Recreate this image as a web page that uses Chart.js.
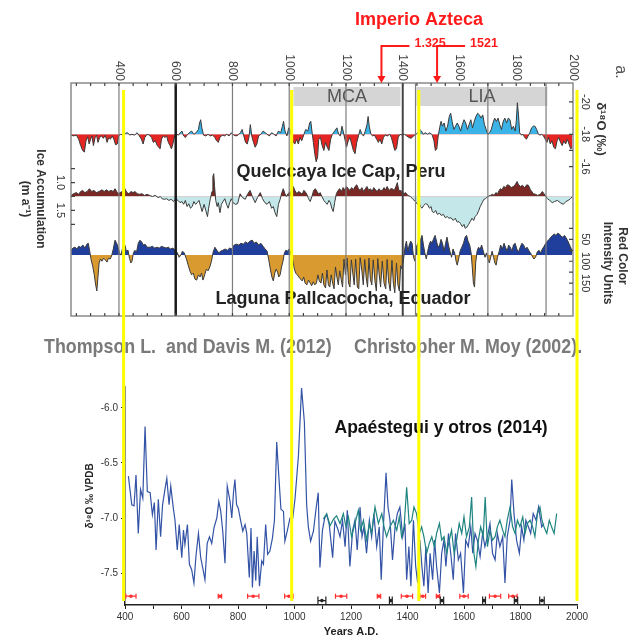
<!DOCTYPE html>
<html>
<head>
<meta charset="utf-8">
<script src="https://cdn.jsdelivr.net/npm/chart.js@4.4.1/dist/chart.umd.min.js"></script>
<style>
  body { margin: 0; background: #fff; }
  #wrap { position: relative; width: 629px; height: 643px; overflow: hidden; }
  canvas { position: absolute; left: 0; }
  #upper { top: 0; }
  #lower { top: 365px; }
</style>
</head>
<body>
<div id="wrap">
  <canvas id="upper" width="629" height="365"></canvas>
  <canvas id="lower" width="629" height="278"></canvas>
</div>
<script>
// Quelccaya ice cap, d18O (per mil) -- [year AD, value]
const quelccayaO18 = [
  [231,-17.95],[240,-17.9],[250,-17.95],[258,-17.7],[265,-17.3],[272,-17],[278,-16.9],[284,-17.6],[290,-17.85],[295,-17.4],
  [300,-17.7],[305,-17.9],[310,-17.3],[316,-17.8],[321,-17.95],[326,-17.5],[332,-17.8],[338,-17.9],[345,-17.75],[352,-17.95],
  [358,-17.5],[364,-17.8],[370,-17.7],[376,-17.9],[382,-17.7],[388,-17.35],[394,-17.4],[399,-17.9],[406,-18],[414,-17.95],
  [422,-18.05],[430,-18.1],[438,-17.95],[446,-18],[455,-17.95],[464,-18.1],[472,-17.9],[479,-17.7],[485,-17.4],[491,-17.8],
  [499,-18],[507,-17.95],[515,-17.8],[521,-17.5],[528,-17.6],[535,-17.3],[545,-17.1],[550,-17.7],[556,-17.9],[562,-17.8],
  [568,-17.9],[574,-17.5],[580,-17.3],[585,-17.1],[590,-17.4],[596,-17.9],[602,-18],[610,-17.95],[616,-18.1],[622,-18.2],
  [628,-17.9],[634,-17.8],[640,-17.95],[648,-18.1],[656,-18.2],[664,-18],[672,-18.1],[680,-18.3],[684,-18.7],[688,-18.9],
  [692,-18.4],[698,-17.95],[706,-17.9],[714,-18],[722,-17.9],[730,-17.95],[738,-17.8],[744,-17.6],[750,-17.5],[756,-17.8],
  [764,-17.95],[772,-17.9],[780,-18],[788,-17.9],[796,-18.1],[804,-17.95],[812,-17.9],[820,-17.95],[828,-18.1],[834,-18.3],
  [840,-17.9],[846,-17.5],[852,-17.4],[858,-17.8],[863,-18.6],[868,-17.9],[874,-17.5],[880,-17.2],[886,-17.4],[892,-17.9],
  [900,-18],[908,-18.2],[915,-18.1],[922,-18],[930,-17.9],[938,-18.1],[946,-18],[954,-17.9],[962,-18.2],[970,-18.1],
  [976,-18.5],[980,-18.8],[985,-18.2],[992,-17.9],[998,-18.4],[1003,-18.3],[1008,-17.9],[1014,-17.5],[1020,-17.4],[1026,-17.7],
  [1032,-17.4],[1038,-17.8],[1044,-17.6],[1050,-17.9],[1058,-18.3],[1066,-18.2],[1072,-18.7],[1076,-18.8],[1080,-18.2],[1085,-17.5],
  [1090,-16.8],[1095,-16.3],[1100,-16.6],[1104,-17.7],[1110,-17.8],[1116,-17.3],[1122,-17],[1128,-17.5],[1134,-17.2],[1140,-17],
  [1146,-17.7],[1152,-18],[1160,-18.2],[1168,-18.4],[1174,-18],[1180,-17.9],[1186,-18.5],[1190,-18.2],[1196,-17.7],[1202,-17.2],
  [1208,-17.6],[1214,-17.8],[1220,-17.4],[1226,-17],[1232,-16.8],[1238,-17.5],[1244,-17.9],[1250,-18.3],[1256,-18],[1262,-17.9],
  [1268,-18.2],[1274,-18.6],[1278,-19.1],[1282,-18.5],[1288,-18],[1294,-17.9],[1300,-17.95],[1308,-17.7],[1314,-17.5],[1320,-17.7],
  [1326,-17.4],[1332,-17.8],[1338,-17.95],[1346,-17.9],[1354,-18],[1360,-17.8],[1366,-17.4],[1372,-17],[1378,-17.1],[1384,-17.8],
  [1390,-18],[1398,-17.95],[1406,-18],[1414,-17.9],[1422,-17.8],[1430,-17.75],[1438,-17.9],[1446,-18],[1454,-18.1],[1460,-18.3],
  [1466,-18.2],[1472,-18],[1480,-18.1],[1488,-18],[1496,-18.1],[1504,-17.95],[1510,-17.6],[1515,-17],[1520,-17.1],[1525,-17.9],
  [1530,-18.4],[1535,-18.8],[1540,-18.5],[1546,-18.7],[1552,-18.2],[1558,-18.5],[1564,-19.1],[1569,-19.3],[1574,-18.8],[1580,-18.3],
  [1586,-18.5],[1592,-18.7],[1598,-18.5],[1604,-18.2],[1610,-18.6],[1616,-18.9],[1622,-18.7],[1628,-18.3],[1634,-18.6],[1640,-18.9],
  [1646,-18.4],[1652,-18.8],[1658,-19.1],[1664,-19.3],[1670,-19.2],[1676,-19],[1682,-19.2],[1688,-18.6],[1694,-18.3],[1700,-18],
  [1706,-18.1],[1712,-18.3],[1718,-18.7],[1724,-19],[1730,-18.8],[1736,-19],[1742,-18.6],[1748,-18.3],[1754,-18.8],[1760,-19],
  [1766,-18.7],[1772,-19],[1778,-18.9],[1784,-18.3],[1790,-18.5],[1796,-18.2],[1800,-18.8],[1804,-19.95],[1808,-19.2],[1812,-18.1],
  [1818,-17.95],[1824,-18],[1830,-17.8],[1836,-17.7],[1842,-17.9],[1848,-18.1],[1854,-18.4],[1860,-18.5],[1866,-18.5],[1872,-18.3],
  [1878,-18],[1884,-17.95],[1890,-18],[1896,-17.9],[1902,-17.7],[1908,-17.5],[1914,-17.8],[1920,-17.4],[1926,-17.6],[1932,-17.2],
  [1938,-17.1],[1944,-17.6],[1950,-17.8],[1956,-17.5],[1962,-17.3],[1968,-17.6],[1974,-17.4],[1980,-17.7],[1986,-17.4],[1992,-17.1],
  [1998,-17.2]
];

// Quelccaya ice accumulation (m a-1)
const quelccayaAccum = [
  [231,1.23],[240,1.20],[250,1.18],[258,1.21],[265,1.16],[272,1.14],[280,1.18],[288,1.16],[296,1.11],[304,1.16],
  [312,1.14],[320,1.18],[330,1.16],[340,1.13],[348,1.16],[356,1.13],[364,1.16],[372,1.14],[380,1.16],[386,1.11],
  [392,1.16],[397,1.20],[404,1.18],[412,1.16],[421,1.11],[428,1.18],[435,1.20],[442,1.16],[450,1.18],[457,1.16],
  [464,1.20],[472,1.21],[481,1.20],[490,1.23],[499,1.21],[508,1.23],[518,1.25],[528,1.23],[538,1.27],[546,1.25],
  [552,1.29],[560,1.30],[568,1.29],[576,1.32],[584,1.30],[592,1.34],[600,1.29],[608,1.32],[615,1.36],[622,1.34],
  [628,1.39],[634,1.32],[640,1.43],[646,1.38],[652,1.46],[658,1.43],[664,1.34],[670,1.39],[676,1.36],[682,1.32],
  [688,1.43],[693,1.52],[700,1.39],[706,1.50],[712,1.61],[716,1.46],[722,1.29],[728,1.16],[731,0.89],[734,0.84],
  [737,1.07],[741,1.32],[746,1.43],[750,1.36],[756,1.54],[761,1.39],[767,1.34],[773,1.29],[779,1.39],[785,1.46],
  [790,1.36],[796,1.29],[802,1.36],[810,1.39],[818,1.38],[827,1.20],[835,1.27],[845,1.30],[853,1.21],[862,1.14],
  [870,1.25],[880,1.36],[888,1.27],[898,1.18],[906,1.29],[914,1.36],[922,1.39],[930,1.34],[938,1.46],[944,1.43],
  [950,1.54],[956,1.61],[962,1.39],[968,1.30],[974,1.18],[979,1.11],[985,1.20],[990,1.25],[996,1.20],[1003,1.16],
  [1008,1.21],[1014,1.07],[1020,1.14],[1027,1.20],[1033,1.16],[1039,1.18],[1046,1.21],[1051,1.14],[1056,1.16],[1062,1.21],
  [1068,1.29],[1074,1.34],[1080,1.25],[1086,1.14],[1092,1.11],[1098,1.16],[1104,1.21],[1109,1.18],[1115,1.25],[1122,1.32],
  [1128,1.36],[1134,1.39],[1140,1.32],[1145,1.36],[1150,1.46],[1155,1.52],[1160,1.36],[1166,1.20],[1172,1.14],[1178,1.11],
  [1184,1.16],[1190,1.09],[1196,1.13],[1202,1.07],[1208,1.11],[1214,1.14],[1220,1.09],[1226,1.13],[1232,1.07],[1238,1.04],
  [1244,1.11],[1250,1.14],[1256,1.09],[1262,1.16],[1268,1.11],[1274,1.07],[1280,1.14],[1286,1.11],[1292,1.16],[1298,1.09],
  [1304,1.13],[1310,1.16],[1316,1.11],[1322,1.14],[1328,1.14],[1334,1.09],[1340,1.13],[1345,1.07],[1352,1.14],[1358,1.11],
  [1363,1.11],[1370,1.14],[1376,1.07],[1381,1.00],[1386,1.14],[1391,1.14],[1398,1.16],[1404,1.20],[1410,1.18],[1418,1.23],
  [1427,1.25],[1436,1.30],[1445,1.34],[1452,1.39],[1458,1.36],[1462,1.43],[1468,1.46],[1474,1.41],[1480,1.38],[1487,1.39],
  [1494,1.46],[1500,1.43],[1504,1.52],[1510,1.54],[1516,1.50],[1522,1.57],[1530,1.55],[1536,1.59],[1543,1.57],[1550,1.63],
  [1557,1.61],[1563,1.64],[1570,1.63],[1578,1.68],[1585,1.64],[1592,1.71],[1598,1.70],[1603,1.73],[1610,1.79],[1616,1.75],
  [1620,1.82],[1626,1.80],[1632,1.75],[1638,1.70],[1644,1.64],[1650,1.68],[1655,1.61],[1662,1.57],[1668,1.50],[1673,1.43],
  [1680,1.36],[1686,1.30],[1691,1.29],[1700,1.25],[1709,1.23],[1716,1.21],[1722,1.23],[1728,1.18],[1734,1.20],[1740,1.14],
  [1744,1.11],[1750,1.13],[1756,1.07],[1762,1.09],[1769,1.04],[1775,1.05],[1782,1.09],[1790,1.07],[1796,1.04],[1803,0.98],
  [1808,1.04],[1815,1.07],[1822,1.05],[1830,1.09],[1837,1.04],[1843,1.05],[1850,1.13],[1855,1.16],[1860,1.20],[1868,1.21],
  [1875,1.23],[1885,1.21],[1892,1.16],[1898,1.20],[1904,1.25],[1910,1.29],[1918,1.32],[1927,1.36],[1935,1.34],[1945,1.32],
  [1955,1.36],[1966,1.39],[1975,1.34],[1983,1.32],[1991,1.29],[1998,1.25]
];

// Laguna Pallcacocha, red colour intensity units
const pallcacochaRed = [
  [231,75],[238,70],[245,68],[252,72],[258,66],[265,68],[273,63],[280,70],[287,61],[292,59],
  [297,77],[302,97],[308,113],[313,131],[318,154],[322,168],[326,136],[330,104],[335,95],[340,100],
  [346,93],[352,97],[358,102],[363,93],[369,95],[374,88],[380,72],[386,52],[392,59],[397,68],
  [402,81],[407,86],[412,72],[416,59],[421,63],[426,77],[432,75],[437,93],[442,104],[446,100],
  [451,81],[456,75],[462,79],[468,59],[474,52],[480,56],[486,63],[492,61],[500,68],[510,68],
  [518,66],[526,70],[534,68],[542,70],[550,66],[558,68],[566,70],[574,68],[582,72],[590,70],
  [598,75],[606,81],[612,91],[618,86],[624,77],[630,81],[638,95],[644,109],[650,122],[656,131],
  [662,127],[668,141],[674,143],[680,131],[686,136],[691,127],[696,143],[702,131],[708,118],[714,122],
  [720,113],[726,100],[732,79],[738,68],[745,75],[752,81],[758,77],[766,75],[774,72],[782,75],
  [790,70],[798,72],[806,63],[814,61],[822,63],[830,59],[838,61],[846,56],[854,59],[862,54],
  [870,52],[876,59],[884,56],[892,63],[900,59],[908,66],[915,72],[922,77],[928,97],[934,120],
  [939,136],[944,145],[949,127],[954,118],[959,125],[963,136],[968,131],[973,113],[978,100],[983,81],
  [988,75],[994,77],[1000,72],[1006,81],[1012,95],[1018,118],[1023,127],[1028,131],[1034,136],[1040,141],
  [1046,145],[1051,136],[1056,150],[1062,154],[1068,143],[1074,150],[1079,156],[1085,147],[1090,154],[1096,150],
  [1101,131],[1106,145],[1112,150],[1117,127],[1122,154],[1128,161],[1133,120],[1138,154],[1143,159],[1148,131],
  [1153,150],[1158,163],[1163,113],[1168,136],[1173,154],[1178,122],[1183,141],[1188,159],[1193,95],[1198,131],
  [1204,93],[1209,150],[1214,159],[1219,97],[1224,127],[1229,154],[1234,95],[1240,159],[1245,163],[1250,92],
  [1256,122],[1261,154],[1266,96],[1271,136],[1276,159],[1281,93],[1286,141],[1291,154],[1296,97],[1302,145],
  [1307,168],[1312,94],[1317,131],[1322,159],[1328,100],[1334,150],[1340,163],[1345,96],[1350,145],[1356,168],
  [1362,98],[1367,150],[1372,172],[1378,104],[1383,154],[1388,168],[1393,110],[1398,118],[1403,95],[1408,68],
  [1413,54],[1418,77],[1423,63],[1428,54],[1433,59],[1438,91],[1443,100],[1448,68],[1453,59],[1458,77],
  [1463,50],[1468,41],[1473,63],[1478,81],[1483,95],[1488,77],[1493,63],[1498,54],[1503,59],[1508,50],
  [1514,41],[1519,54],[1524,68],[1530,63],[1535,50],[1540,59],[1546,77],[1551,59],[1556,45],[1561,63],
  [1567,79],[1572,91],[1577,72],[1583,81],[1588,100],[1592,109],[1597,95],[1602,77],[1608,68],[1614,59],
  [1620,45],[1625,41],[1630,54],[1636,63],[1641,81],[1645,113],[1649,150],[1653,159],[1657,104],[1662,77],
  [1667,68],[1673,72],[1678,63],[1684,77],[1690,91],[1695,81],[1700,95],[1705,104],[1710,91],[1715,77],
  [1720,91],[1725,104],[1729,109],[1734,91],[1740,77],[1745,63],[1751,72],[1757,59],[1762,68],[1768,77],
  [1773,63],[1779,68],[1785,77],[1790,63],[1796,59],[1802,72],[1808,79],[1814,68],[1820,59],[1826,63],
  [1832,72],[1838,68],[1844,75],[1850,81],[1856,88],[1862,95],[1868,91],[1874,79],[1880,75],[1886,81],
  [1892,72],[1898,66],[1904,59],[1910,54],[1916,50],[1922,45],[1928,41],[1934,38],[1940,41],[1946,36],
  [1952,38],[1958,43],[1964,45],[1970,41],[1976,47],[1982,54],[1988,63],[1994,72],[1998,81]
];

// Apaestegui et al. speleothem d18O (per mil VPDB), two records
const speleoBlue = [
  [412,-6.62],[424,-6.88],[432,-6.89],[439,-6.61],[447,-7.14],[455,-6.74],[463,-6.82],[471,-6.17],[479,-6.76],[489,-6.77],
  [497,-6.97],[504,-6.86],[510,-7.29],[518,-6.83],[526,-7.17],[533,-6.88],[542,-6.73],[548,-6.64],[556,-6.88],[562,-6.71],
  [571,-6.91],[577,-7.02],[585,-7.29],[592,-7.06],[601,-7.36],[607,-7.11],[612,-7.24],[621,-7.06],[628,-7.42],[636,-7.47],
  [644,-7.59],[651,-7.35],[660,-7.14],[668,-7.36],[675,-7.45],[683,-7.56],[691,-7.23],[699,-7.17],[707,-7.23],[715,-7.09],
  [725,-7.00],[732,-6.85],[739,-6.94],[746,-7.12],[754,-7.41],[762,-6.71],[772,-6.85],[778,-7.00],[784,-6.77],[789,-6.65],
  [795,-6.88],[801,-6.91],[809,-7.02],[817,-7.12],[825,-7.06],[831,-7.14],[840,-7.54],[846,-7.09],[851,-7.63],[857,-7.30],
  [863,-7.57],[868,-7.17],[876,-7.62],[884,-7.39],[890,-7.42],[898,-7.06],[905,-7.33],[913,-7.30],[922,-7.18],[929,-7.02],
  [937,-6.31],[945,-6.64],[952,-6.92],[961,-6.94],[966,-7.21],[975,-7.11],[984,-7.00],[994,-7.00],[1002,-6.82],[1014,-6.43],
  [1025,-5.82],[1035,-6.13],[1043,-6.88],[1049,-7.08],[1057,-7.21],[1067,-7.12],[1076,-6.92],[1084,-6.77],[1090,-7.45],[1099,-7.11],
  [1107,-7.00],[1114,-6.97],[1123,-7.06],[1135,-7.36],[1143,-7.03],[1152,-7.09],[1161,-7.17],[1170,-7.02],[1179,-7.26],[1187,-6.93],
  [1196,-7.44],[1206,-7.11],[1214,-7.02],[1222,-7.29],[1232,-6.90],[1239,-7.17],[1246,-7.08],[1255,-7.32],[1265,-7.02],[1273,-7.17],
  [1281,-6.96],[1291,-7.26],[1300,-7.08],[1307,-7.56],[1314,-7.11],[1324,-6.59],[1331,-6.90],[1338,-7.02],[1347,-7.38],[1356,-7.08],
  [1364,-6.96],[1373,-6.90],[1383,-7.17],[1391,-7.05],[1397,-7.56],[1405,-7.26],[1412,-7.62],[1421,-7.02],[1429,-7.44],[1436,-7.59],
  [1444,-7.20],[1451,-7.44],[1458,-7.62],[1465,-7.26],[1473,-7.68],[1480,-7.32],[1489,-7.56],[1496,-7.20],[1503,-7.44],[1513,-7.68],
  [1521,-7.32],[1529,-7.20],[1536,-7.44],[1545,-7.14],[1553,-7.32],[1562,-7.56],[1570,-7.14],[1580,-7.38],[1588,-7.32],[1598,-7.68],
  [1606,-7.20],[1615,-7.26],[1624,-7.08],[1631,-7.32],[1639,-7.14],[1647,-7.20],[1657,-7.35],[1666,-7.14],[1674,-7.26],[1683,-7.17],
  [1692,-7.05],[1701,-7.32],[1710,-7.38],[1718,-7.14],[1727,-7.26],[1737,-7.17],[1745,-7.59],[1753,-7.17],[1763,-7.02],[1769,-6.65],
  [1777,-6.96],[1786,-7.20],[1796,-7.32],[1804,-7.08],[1812,-7.20],[1819,-7.02],[1828,-7.08],[1836,-7.14],[1845,-6.96],[1855,-7.02],
  [1864,-6.90],[1875,-7.08],[1883,-7.05]
];
const speleoTeal = [
  [1102,-7.01],[1114,-6.96],[1126,-7.07],[1138,-7.01],[1149,-6.98],[1161,-7.05],[1173,-6.96],[1182,-7.08],[1191,-6.99],[1202,-7.17],
  [1214,-7.05],[1226,-6.93],[1234,-7.11],[1244,-7.02],[1255,-7.20],[1265,-7.05],[1273,-7.14],[1285,-6.90],[1297,-7.05],[1309,-6.96],
  [1317,-7.08],[1326,-7.17],[1338,-7.08],[1350,-7.02],[1362,-7.11],[1371,-6.99],[1379,-7.17],[1388,-7.08],[1397,-6.72],[1406,-7.05],
  [1415,-7.02],[1423,-6.90],[1432,-6.96],[1442,-7.14],[1450,-7.08],[1458,-7.17],[1468,-7.32],[1477,-7.23],[1486,-7.17],[1495,-7.26],
  [1503,-7.14],[1513,-7.05],[1521,-7.20],[1529,-7.17],[1539,-7.32],[1548,-7.20],[1556,-7.11],[1565,-7.32],[1574,-7.20],[1583,-7.05],
  [1592,-7.14],[1600,-6.99],[1609,-7.17],[1619,-7.08],[1627,-6.81],[1635,-7.32],[1642,-7.44],[1651,-7.20],[1659,-7.08],[1668,-7.17],
  [1675,-6.81],[1683,-7.26],[1692,-7.11],[1701,-7.20],[1710,-7.17],[1718,-7.08],[1727,-7.02],[1737,-7.11],[1745,-7.17],[1753,-7.02],
  [1763,-6.90],[1772,-7.08],[1781,-7.14],[1789,-7.02],[1798,-7.08],[1808,-6.99],[1816,-7.14],[1824,-7.05],[1834,-7.02],[1843,-7.08],
  [1851,-7.17],[1860,-6.96],[1869,-6.90],[1876,-7.02],[1883,-7.08],[1893,-7.14],[1902,-7.02],[1910,-7.08],[1919,-7.14],[1928,-6.96]
];

// U-Th ages with half-widths (years); red = one record, black = the other
const redDates = [421, 736, 854, 980, 1165, 1299, 1398, 1454, 1508, 1600, 1710, 1773];
const redErr = [18, 6, 20, 15, 20, 6, 20, 10, 6, 15, 20, 15];
const blackDates = [1097, 1341, 1522, 1671, 1784, 1876];
const blackErr = [14, 5, 6, 5, 6, 8];

const topTickYears = [400, 600, 800, 1000, 1200, 1400, 1600, 1800, 2000];
const gridYears = [400, 600, 800, 1000, 1200, 1400, 1445, 1700, 1905];
const periods = ['MCA', 'LIA'];
const periodStart = [1015, 1448];
const periodEnd = [1392, 1910];
const aztecYears = [1325, 1521];
const aztecLabels = ['1.325', '1521'];
const markerYears = [395, 990, 1440, 2000];
const lowerYTicks = [-6.0, -6.5, -7.0, -7.5];
const lowerXTicks = [400, 500, 600, 700, 800, 900, 1000, 1100, 1200, 1300, 1400, 1500, 1600, 1700, 1800, 1900, 2000];

const O18_BASE = -18, ACCUM_BASE = 1.25, RED_BASE = 86;
const RED_LEVEL = -7.71, BLACK_LEVEL = -7.75;
const SANS = '"Liberation Sans", Arial, sans-serif';

Chart.defaults.font.family = SANS;

const toXY = arr => arr.map(([x, y]) => ({ x, y }));

function rotText(ctx, text, x, y, align) {
  ctx.save();
  ctx.translate(x, y);
  ctx.rotate(Math.PI / 2);
  ctx.textAlign = align || 'center';
  ctx.textBaseline = 'middle';
  ctx.fillText(text, 0, 0);
  ctx.restore();
}

function squeezedText(ctx, text, x, y, sx) {
  ctx.save();
  ctx.translate(x, y);
  ctx.scale(sx, 1);
  ctx.textAlign = 'left';
  ctx.textBaseline = 'middle';
  ctx.fillText(text, 0, 0);
  ctx.restore();
}

let lowerChart = null;

// the yellow marker lines run through both panels, placed on the lower time axis
function drawYellow(ctx, xs, y0, y1) {
  ctx.save();
  ctx.strokeStyle = '#ffff00';
  ctx.lineWidth = 3;
  markerYears.forEach(yr => {
    const px = xs.getPixelForValue(yr);
    ctx.beginPath();
    ctx.moveTo(px, y0);
    ctx.lineTo(px, y1);
    ctx.stroke();
  });
  ctx.restore();
}

function drawAgeBars(ctx, xs, ys, dates, errs, level, color, cap) {
  const cy = ys.getPixelForValue(level);
  ctx.strokeStyle = color;
  ctx.fillStyle = color;
  ctx.lineWidth = 1.2;
  dates.forEach((d, i) => {
    const x0 = xs.getPixelForValue(d - errs[i]);
    const x1 = xs.getPixelForValue(d + errs[i]);
    ctx.beginPath();
    ctx.moveTo(x0, cy); ctx.lineTo(x1, cy);
    ctx.moveTo(x0, cy - cap); ctx.lineTo(x0, cy + cap);
    ctx.moveTo(x1, cy - cap); ctx.lineTo(x1, cy + cap);
    ctx.stroke();
    ctx.beginPath();
    ctx.arc(xs.getPixelForValue(d), cy, 1.8, 0, Math.PI * 2);
    ctx.fill();
  });
}

const lowerDecor = {
  id: 'lowerDecor',
  afterDatasetsDraw(chart) {
    const { ctx, scales: { x, y } } = chart;
    ctx.save();
    ctx.font = 'bold 17.5px ' + SANS;
    ctx.fillStyle = '#111';
    ctx.textAlign = 'center';
    ctx.textBaseline = 'middle';
    ctx.fillText('Apaéstegui y otros (2014)', 441, 63);
    drawAgeBars(ctx, x, y, redDates, redErr, RED_LEVEL, '#ff3030', 2.5);
    drawAgeBars(ctx, x, y, blackDates, blackErr, BLACK_LEVEL, '#222', 4);
    ctx.restore();
  },
  afterDraw(chart) {
    drawYellow(chart.ctx, chart.scales.x, 0, chart.scales.y.bottom - 4);
  }
};

const upperDecor = {
  id: 'upperDecor',
  beforeDatasetsDraw(chart) {
    const { ctx, chartArea: a, scales: { x } } = chart;
    ctx.save();
    ctx.font = '18px ' + SANS;
    ctx.textAlign = 'center';
    ctx.textBaseline = 'middle';
    periods.forEach((name, i) => {
      const x0 = x.getPixelForValue(periodStart[i]);
      const x1 = x.getPixelForValue(periodEnd[i]);
      ctx.fillStyle = '#d5d5d5';
      ctx.fillRect(x0, a.top + 4, x1 - x0, 19);
      ctx.fillStyle = '#555';
      ctx.fillText(name, (x0 + x1) / 2, a.top + 14);
    });
    ctx.restore();
  },
  afterDatasetsDraw(chart) {
    const { ctx, chartArea: a, scales } = chart;
    const { x, yO, yA, yR } = scales;
    ctx.save();

    // vertical reference lines
    gridYears.forEach(yr => {
      const px = x.getPixelForValue(yr);
      ctx.strokeStyle = yr === 600 ? '#1a1a1a' : yr === 1400 ? '#444' : '#7d7d7d';
      ctx.lineWidth = yr === 600 ? 2.5 : yr === 1400 ? 2 : 1.2;
      ctx.beginPath();
      ctx.moveTo(px, a.top);
      ctx.lineTo(px, a.bottom);
      ctx.stroke();
    });

    // frame
    ctx.strokeStyle = '#8a8a8a';
    ctx.lineWidth = 1.5;
    ctx.strokeRect(a.left, a.top, a.right - a.left, a.bottom - a.top);

    // small ticks along top and bottom edges
    ctx.strokeStyle = '#444';
    ctx.lineWidth = 1.2;
    ctx.beginPath();
    for (let yr = 250; yr < 2000; yr += 50) {
      const px = x.getPixelForValue(yr);
      ctx.moveTo(px, a.top); ctx.lineTo(px, a.top + 3);
      ctx.moveTo(px, a.bottom); ctx.lineTo(px, a.bottom - 3);
    }
    // inward ticks for the side axes
    [0.75, 1.0, 1.25, 1.5, 1.75].forEach(v => {
      const py = yA.getPixelForValue(v);
      ctx.moveTo(a.left, py); ctx.lineTo(a.left + 4, py);
    });
    [-20, -19, -18, -17, -16].forEach(v => {
      const py = yO.getPixelForValue(v);
      ctx.moveTo(a.right, py); ctx.lineTo(a.right - 4, py);
    });
    [25, 50, 75, 100, 125, 150, 175].forEach(v => {
      const py = yR.getPixelForValue(v);
      ctx.moveTo(a.right, py); ctx.lineTo(a.right - 4, py);
    });
    ctx.stroke();

    // year labels above the frame
    ctx.fillStyle = '#444';
    ctx.font = '12px ' + SANS;
    topTickYears.forEach(yr => rotText(ctx, String(yr), x.getPixelForValue(yr), a.top - 2, 'right'));

    // side axis labels
    ctx.fillStyle = '#333';
    ctx.font = '11px ' + SANS;
    [1.0, 1.5].forEach(v => rotText(ctx, v.toFixed(1), 60, yA.getPixelForValue(v)));
    [-20, -18, -16].forEach(v => rotText(ctx, String(v), 585, yO.getPixelForValue(v)));
    [50, 100, 150].forEach(v => rotText(ctx, String(v), 585, yR.getPixelForValue(v)));

    ctx.font = 'bold 12px ' + SANS;
    rotText(ctx, 'Ice Accumulation', 40, 199);
    rotText(ctx, '(m a\u207B\u00B9)', 25, 199);
    rotText(ctx, 'Red Color', 622, 256);
    rotText(ctx, 'Intensity Units', 607, 263);
    ctx.font = 'bold 13px ' + SANS;
    rotText(ctx, '\u03B4\u00B9\u2078O (\u2030)', 601, 129);
    ctx.fillStyle = '#555';
    ctx.font = '16px ' + SANS;
    rotText(ctx, 'a.', 620, 72);

    // record names
    ctx.fillStyle = '#222';
    ctx.font = 'bold 18px ' + SANS;
    ctx.textAlign = 'center';
    ctx.textBaseline = 'middle';
    ctx.fillText('Quelccaya Ice Cap, Peru', 341, 172);
    ctx.fillText('Laguna Pallcacocha, Ecuador', 343, 299);

    // sources
    ctx.fillStyle = '#7a7a7a';
    ctx.font = 'bold 21px ' + SANS;
    squeezedText(ctx, 'Thompson L.  and Davis M. (2012)', 44, 347, 0.85);
    squeezedText(ctx, 'Christopher M. Moy (2002).', 354, 347, 0.85);

    // Aztec empire markers
    ctx.fillStyle = '#ff1a1a';
    ctx.strokeStyle = '#ff1a1a';
    ctx.font = 'bold 18px ' + SANS;
    ctx.textAlign = 'center';
    ctx.fillText('Imperio Azteca', 419, 20);
    ctx.font = 'bold 12.5px ' + SANS;
    ctx.textAlign = 'left';
    ctx.lineWidth = 2;
    aztecYears.forEach((yr, i) => {
      const px = x.getPixelForValue(yr);
      ctx.beginPath();
      ctx.moveTo(px + 28, 46);
      ctx.lineTo(px, 46);
      ctx.lineTo(px, a.top - 6);
      ctx.stroke();
      ctx.beginPath();
      ctx.moveTo(px - 4, a.top - 7);
      ctx.lineTo(px + 4, a.top - 7);
      ctx.lineTo(px, a.top);
      ctx.closePath();
      ctx.fill();
      ctx.fillText(aztecLabels[i], px + 33, 44);
    });
    ctx.restore();
  },
  afterDraw(chart) {
    drawYellow(chart.ctx, lowerChart.scales.x, 90, chart.height);
  }
};

lowerChart = new Chart(document.getElementById('lower'), {
  type: 'line',
  data: {
    datasets: [
      { data: toXY(speleoTeal), borderColor: '#1f8580', borderWidth: 1.2, pointRadius: 0, fill: false },
      { data: toXY(speleoBlue), borderColor: '#3353a6', borderWidth: 1.2, pointRadius: 0, fill: false }
    ]
  },
  options: {
    responsive: false,
    animation: false,
    events: [],
    layout: { padding: { left: 80, right: 52, top: 22, bottom: 4 } },
    plugins: { legend: { display: false }, tooltip: { enabled: false } },
    scales: {
      x: {
        type: 'linear', min: 400, max: 2000,
        afterBuildTicks: s => { s.ticks = lowerXTicks.map(v => ({ value: v })); },
        afterFit: s => { s.height = 34; },
        ticks: { autoSkip: false, maxRotation: 0, padding: 2, color: '#333', font: { size: 10 },
                 callback: v => (v % 200 === 0 ? String(v) : '') },
        grid: { drawOnChartArea: false, tickLength: 4, color: '#222' },
        border: { color: '#222', width: 1.5 },
        title: { display: true, text: 'Years A.D.', color: '#222', font: { size: 11, weight: 'bold' }, padding: 0 }
      },
      y: {
        min: -7.79, max: -5.81,
        afterBuildTicks: s => { s.ticks = lowerYTicks.map(v => ({ value: v })); },
        afterFit: s => { s.width = 45; },
        ticks: { color: '#333', font: { size: 10 }, padding: 3, callback: v => v.toFixed(1) },
        grid: { drawOnChartArea: false, tickLength: 4, color: '#222' },
        border: { color: '#222', width: 1.5 },
        title: { display: true, text: '\u03B4\u00B9\u2078O \u2030 VPDB', color: '#222', font: { size: 10, weight: 'bold' } }
      }
    }
  },
  plugins: [lowerDecor]
});

new Chart(document.getElementById('upper'), {
  type: 'line',
  data: {
    datasets: [
      { data: toXY(quelccayaO18), yAxisID: 'yO', borderColor: '#3a3a3a', borderWidth: 1, pointRadius: 0,
        fill: { target: { value: O18_BASE }, above: '#3cb3e6', below: '#e52521' } },
      { data: toXY(quelccayaAccum), yAxisID: 'yA', borderColor: '#3a3a3a', borderWidth: 1, pointRadius: 0,
        fill: { target: { value: ACCUM_BASE }, above: '#7b2724', below: '#c4e8ea' } },
      { data: toXY(pallcacochaRed), yAxisID: 'yR', borderColor: '#3a3a3a', borderWidth: 1, pointRadius: 0,
        fill: { target: { value: RED_BASE }, above: '#203f9c', below: '#d99a30' } }
    ]
  },
  options: {
    responsive: false,
    animation: false,
    events: [],
    layout: { padding: { left: 71, right: 56, top: 83, bottom: 49 } },
    plugins: { legend: { display: false }, tooltip: { enabled: false } },
    scales: {
      x: { type: 'linear', min: 231, max: 2000, display: false },
      yO: { min: -21.17, max: -6.77, reverse: true, display: false },
      yA: { min: -0.786, max: 3.393, reverse: true, display: false },
      yR: { min: -306.8, max: 225, reverse: true, display: false }
    }
  },
  plugins: [upperDecor]
});
</script>
</body>
</html>
